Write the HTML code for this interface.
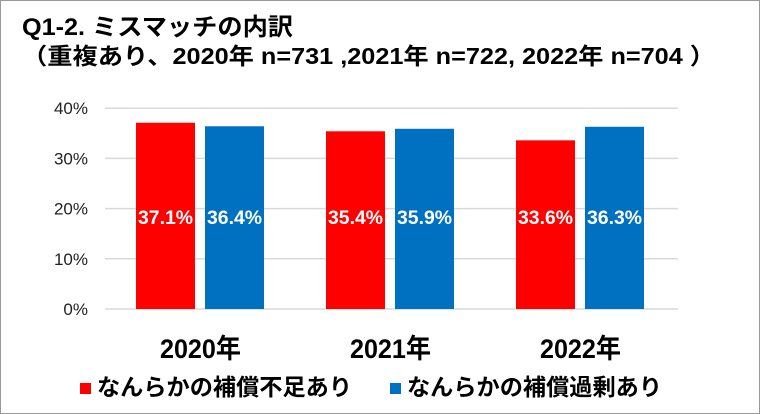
<!DOCTYPE html>
<html><head><meta charset="utf-8"><style>
body{margin:0;background:#fff}
svg{display:block}
text{font-family:"Liberation Sans","Noto Sans CJK JP",sans-serif}
</style></head><body>
<svg width="760" height="414" viewBox="0 0 760 414">
<rect x="0.5" y="0.5" width="759" height="413" fill="#fff" stroke="#999"/>
<text x="22" y="35" font-size="24" font-weight="bold" fill="#000" textLength="271" lengthAdjust="spacingAndGlyphs">Q1-2. ミスマッチの内訳</text>
<text x="22" y="64" font-size="23" font-weight="bold" fill="#000" textLength="693" lengthAdjust="spacingAndGlyphs">（重複あり、2020年 n=731 ,2021年 n=722, 2022年 n=704 ）</text>
<g id="grid"></g><g id="bars"></g><g id="labels"></g>
<rect x="80" y="383" width="11" height="11" fill="#ff0000"/>
<text x="97" y="395" font-size="23" font-weight="bold" textLength="255" lengthAdjust="spacingAndGlyphs">なんらかの補償不足あり</text>
<rect x="390" y="383" width="11" height="11" fill="#0070c0"/>
<text x="407" y="395" font-size="23" font-weight="bold" textLength="255" lengthAdjust="spacingAndGlyphs">なんらかの補償過剰あり</text>
</svg>
<script>
const categories=["2020年","2021年","2022年"];
const shortfall=[37.1,35.4,33.6];
const excess=[36.4,35.9,36.3];
const yTicks=[0,10,20,30,40];
const ns="http://www.w3.org/2000/svg";
const x0=105,groupW=190,y0=309,pxPer=5.02;
const y=v=>y0-v*pxPer;
function mk(tag,attrs,parent){const e=document.createElementNS(ns,tag);for(const k in attrs)e.setAttribute(k,attrs[k]);document.getElementById(parent).appendChild(e);return e;}
yTicks.forEach(t=>{
 const l=mk("line",{x1:x0,x2:678,y1:y(t),y2:y(t),stroke:"#d9d9d9","stroke-width":1.5},"grid");
 
 
 const tx=mk("text",{x:88,y:y(t)+6,"text-anchor":"end","font-size":17,fill:"#222"},"grid");
 tx.textContent=t+"%";
 
 
});
categories.forEach((c,i)=>{
 const cx=x0+groupW*(i+0.5);
 [[shortfall[i],"#ff0000",-64],[excess[i],"#0070c0",5]].forEach(([v,col,off],j)=>{
  const r=mk("rect",{x:cx+off,y:y(v),width:59,height:v*pxPer,fill:col},"bars");
  
  
  const t=mk("text",{x:cx+off+2,y:224,"font-size":19,"font-weight":"bold",fill:"#fff",textLength:55,lengthAdjust:"spacingAndGlyphs"},"labels");
  t.textContent=v.toFixed(1)+"%";
  
  
 });
 const ct=mk("text",{x:cx-40,y:358,"font-size":27,"font-weight":"bold",fill:"#000",textLength:81,lengthAdjust:"spacingAndGlyphs"},"labels");
 ct.textContent=c;
 
 
});
</script>
</body></html>
